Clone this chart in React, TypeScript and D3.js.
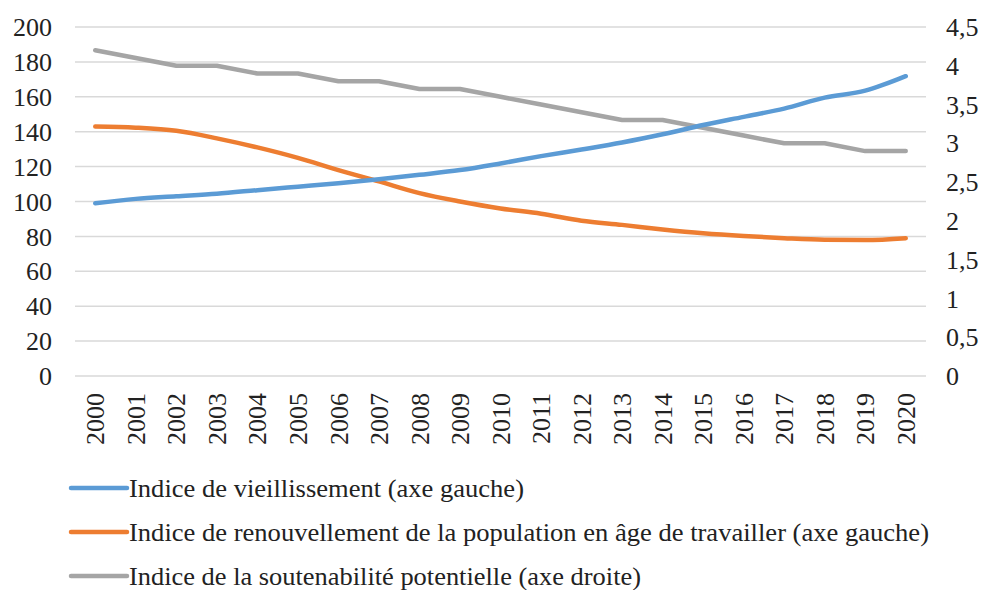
import { useEffect, useRef } from "react";
import * as d3 from "d3";

const width = 984;
const height = 590;
const marginTop = 27;
const marginLeft = 75;
const marginRight = 58;
const chartBottomY = 376;

const years = [
  "2000", "2001", "2002", "2003", "2004", "2005", "2006", "2007", "2008", "2009", "2010",
  "2011", "2012", "2013", "2014", "2015", "2016", "2017", "2018", "2019", "2020",
];

// Indice de vieillissement (axe gauche)
const vieillissement = [
  99, 101.5, 103, 104.5, 106.5, 108.5, 110.5, 112.8, 115.3, 118, 121.8,
  126, 129.8, 133.8, 138.5, 143.8, 148.5, 153.2, 159.5, 163.5, 171.8,
];

// Indice de renouvellement de la population en âge de travailler (axe gauche)
const renouvellement = [
  143, 142.3, 140.5, 136.2, 131, 125, 118, 111.5, 104.8, 100, 96,
  93, 89, 86.6, 84, 81.8, 80.2, 79, 78.1, 77.9, 79,
];

// Indice de la soutenabilité potentielle (axe droite)
const soutenabilite = [
  4.2, 4.1, 4.0, 4.0, 3.9, 3.9, 3.8, 3.8, 3.7, 3.7, 3.6,
  3.5, 3.4, 3.3, 3.3, 3.2, 3.1, 3.0, 3.0, 2.9, 2.9,
];

const leftTicks = [0, 20, 40, 60, 80, 100, 120, 140, 160, 180, 200];
const rightTicks = [0, 0.5, 1, 1.5, 2, 2.5, 3, 3.5, 4, 4.5];

const legendLabels = [
  "Indice de vieillissement (axe gauche)",
  "Indice de renouvellement de la population en âge de travailler (axe gauche)",
  "Indice de la soutenabilité potentielle (axe droite)",
];
// widths of the legend texts in the original picture
const legendWidths = [395, 800, 512];

const colors = ["#5B9BD5", "#ED7D31", "#A5A5A5"];
const serifStack = '"Liberation Serif", "Times New Roman", Tinos, Times, serif';

const App = () => {
  const ref = useRef<SVGSVGElement>(null);

  const xScale = d3
    .scaleBand()
    .domain(years)
    .range([marginLeft, width - marginRight]);

  const yLeft = d3.scaleLinear().domain([0, 200]).range([chartBottomY, marginTop]);
  const yRight = d3.scaleLinear().domain([0, 4.5]).range([chartBottomY, marginTop]);

  const cx = (i: number) => (xScale(years[i]) ?? 0) + xScale.bandwidth() / 2;

  const smoothLine = d3
    .line<number>()
    .x((_, i) => cx(i))
    .y((d) => yLeft(d))
    .curve(d3.curveMonotoneX);

  const grayLine = d3
    .line<number>()
    .x((_, i) => cx(i))
    .y((d) => yRight(d));

  useEffect(() => {
    d3.select(ref.current)
      .selectAll("text")
      .style("font-family", serifStack, "important");
  }, []);

  return (
    <svg
      ref={ref}
      width={width}
      height={height}
      viewBox={`0 0 ${width} ${height}`}
      fontFamily={serifStack}
      style={{ position: "absolute", left: 0, top: 0, background: "#fff" }}
    >
      <g className="grid">
        {leftTicks.map((t) => (
          <line
            key={t}
            x1={marginLeft}
            x2={width - marginRight}
            y1={yLeft(t)}
            y2={yLeft(t)}
            stroke="#D9D9D9"
            strokeWidth={1.5}
          />
        ))}
      </g>
      <g className="left-axis">
        {leftTicks.map((t) => (
          <text key={t} x={52} y={yLeft(t)} dy="0.35em" textAnchor="end" fontSize={26} fill="#222">
            {String(t)}
          </text>
        ))}
      </g>
      <g className="right-axis">
        {rightTicks.map((t) => (
          <text key={t} x={946} y={yRight(t)} dy="0.35em" fontSize={26} fill="#222">
            {String(t).replace(".", ",")}
          </text>
        ))}
      </g>
      <g className="x-axis">
        {years.map((y, i) => (
          <text
            key={y}
            transform={`translate(${cx(i)},393) rotate(-90)`}
            dy="0.35em"
            textAnchor="end"
            fontSize={26}
            fill="#222"
          >
            {y}
          </text>
        ))}
      </g>
      <g className="lines" fill="none" strokeWidth={4.5} strokeLinejoin="round" strokeLinecap="round">
        <path d={grayLine(soutenabilite) ?? ""} stroke={colors[2]} />
        <path d={smoothLine(renouvellement) ?? ""} stroke={colors[1]} />
        <path d={smoothLine(vieillissement) ?? ""} stroke={colors[0]} />
      </g>
      <g className="legend">
        {legendLabels.map((text, i) => (
          <g key={text} transform={`translate(0,${488 + i * 44})`}>
            <line x1={71} x2={127} y1={0} y2={0} stroke={colors[i]} strokeWidth={4.5} strokeLinecap="round" />
            <text
              x={129}
              y={0}
              dy="0.35em"
              fontSize={26}
              fill="#222"
              textLength={legendWidths[i]}
              lengthAdjust="spacingAndGlyphs"
            >
              {text}
            </text>
          </g>
        ))}
      </g>
    </svg>
  );
};

export default App;
